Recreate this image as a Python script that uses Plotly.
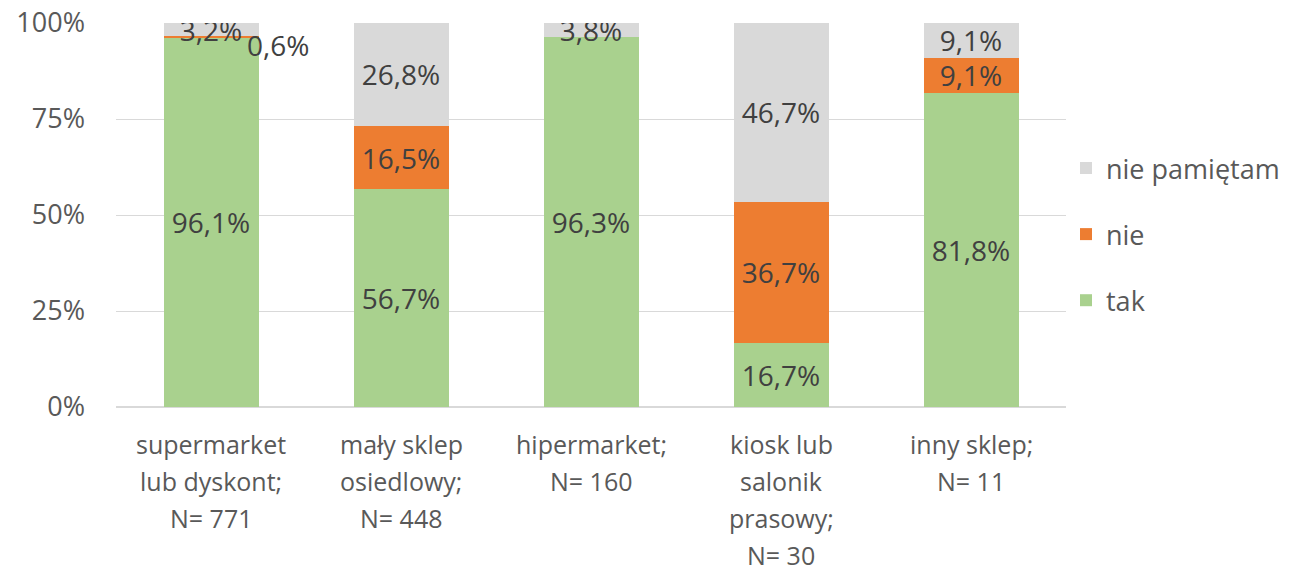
import plotly.graph_objects as go

categories = ["supermarket\nlub dyskont;\nN= 771", "mały sklep\nosiedlowy;\nN= 448",
              "hipermarket;\nN= 160", "kiosk lub\nsalonik\nprasowy;\nN= 30", "inny sklep;\nN= 11"]
tak = [96.1, 56.7, 96.3, 16.7, 81.8]
nie = [0.6, 16.5, 0.0, 36.7, 9.1]
nie_pamietam = [3.2, 26.8, 3.8, 46.7, 9.1]
ytick_vals = [0, 25, 50, 75, 100]
ytick_text = ["0%", "25%", "50%", "75%", "100%"]

FONT = "Open Sans"
keys = list(range(len(categories)))


def fmt(v):
    return f"{v:.1f}".replace(".", ",") + "%"


def labels(vals, min_show=1.0):
    return [fmt(v) if v >= min_show else "" for v in vals]


series = [("tak", tak, "#A9D18E", 3), ("nie", nie, "#ED7D31", 2),
          ("nie pamiętam", nie_pamietam, "#D9D9D9", 1)]

fig = go.Figure()
for name, vals, col, rank in series:
    fig.add_trace(go.Bar(
        name=name, x=keys, y=vals, marker=dict(color=col, line=dict(width=0)),
        text=labels(vals), textposition="inside", insidetextanchor="middle",
        constraintext="none", textangle=0,
        textfont=dict(family=FONT, size=28, color="#404040"),
        legendgroup=name, legendrank=rank, hoverinfo="skip"))

# small segments labelled outside the bar
for k in keys:
    if 0 < nie[k] < 1.0:
        fig.add_annotation(x=k, y=(tak[k] + nie[k]), text=fmt(nie[k]), showarrow=False,
                           xshift=67, yshift=-9, yanchor="middle",
                           font=dict(family=FONT, size=28, color="#404040"))

# category labels (multi-line, wider line spacing)
for k, cat in enumerate(categories):
    for j, line in enumerate(cat.split("\n")):
        fig.add_annotation(x=k, y=0, yref="paper", text=line, showarrow=False,
                           yanchor="middle", yshift=-37 - 37 * j,
                           font=dict(family=FONT, size=25, color="#595959"))

fig.update_layout(
    width=1292, height=562, barmode="stack", bargap=0.5,
    margin=dict(l=108, r=234, t=15, b=163, autoexpand=False),
    plot_bgcolor="white", paper_bgcolor="white",
    font=dict(family=FONT, color="#595959"),
    legend=dict(x=1.0, y=0.685, xanchor="left", yanchor="top",
                traceorder="grouped", tracegroupgap=28,
                font=dict(family=FONT, size=27, color="#595959")),
    xaxis=dict(range=[-0.5, len(categories) - 0.5], showticklabels=False,
               showgrid=False, zeroline=False, showline=False, fixedrange=True,
               automargin=False),
    yaxis=dict(range=[0, 100], tickvals=ytick_vals, ticktext=ytick_text,
               showgrid=True, gridcolor="#D9D9D9", gridwidth=1, zeroline=True,
               zerolinecolor="#D9D9D9", ticks="", ticklabelstandoff=30,
               ticklabeloverflow="allow", automargin=False,
               tickfont=dict(family=FONT, size=27, color="#595959")),
)

fig.write_html("out.html")
